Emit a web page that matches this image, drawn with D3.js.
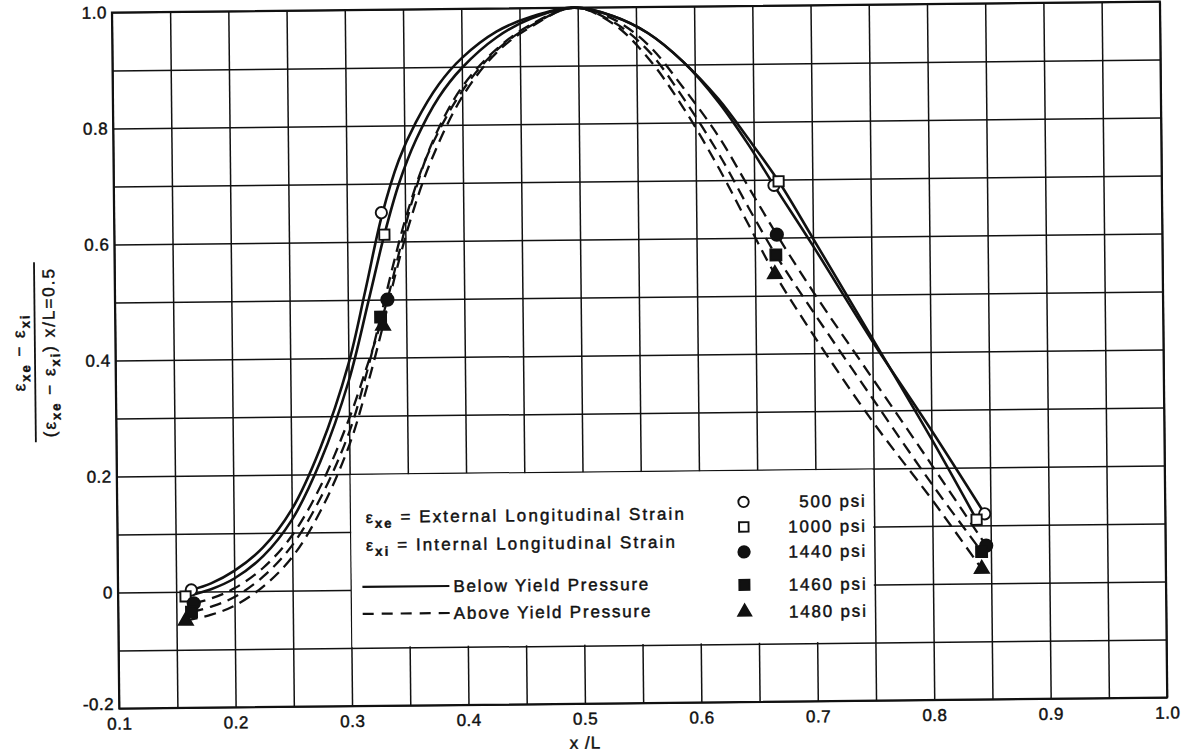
<!DOCTYPE html>
<html><head><meta charset="utf-8">
<script src="https://cdn.jsdelivr.net/npm/d3@7"></script>
<style>
body{margin:0;background:#fff;}
svg text{font-family:"Liberation Sans",Arial,sans-serif;fill:#111;stroke:#111;stroke-width:0.45;}
</style></head><body>
<svg id="c" width="1193" height="752"></svg>
<script>
// ---- data ----
const xGridVals = [0.1,0.15,0.2,0.25,0.3,0.35,0.4,0.45,0.5,0.55,0.6,0.65,0.7,0.75,0.8,0.85,0.9,0.95,1.0];
const xTickVals = [0.1,0.2,0.3,0.4,0.5,0.6,0.7,0.8,0.9,1.0];
const xTickLabels = ["0.1","0.2","0.3","0.4","0.5","0.6","0.7","0.8","0.9","1.0"];
const yGridVals = [-0.2,-0.1,0,0.1,0.2,0.3,0.4,0.5,0.6,0.7,0.8,0.9,1.0];
const yTickVals = [-0.2,0,0.2,0.4,0.6,0.8,1.0];
const yTickLabels = ["-0.2","0","0.2","0.4","0.6","0.8","1.0"];

// fitted curves
const c500x  = [0.163,0.18,0.20,0.225,0.25,0.275,0.30,0.315,0.33,0.345,0.36,0.38,0.40,0.43,0.46,0.497,0.53,0.56,0.59,0.62,0.645,0.667,0.70,0.75,0.80,0.845];
const c500y  = [0.003,0.014,0.035,0.075,0.14,0.245,0.39,0.515,0.645,0.74,0.805,0.87,0.915,0.96,0.985,1.0,0.985,0.955,0.905,0.835,0.762,0.69,0.585,0.42,0.265,0.12];
const c1000x = [0.158,0.18,0.20,0.225,0.25,0.275,0.30,0.318,0.332,0.345,0.36,0.38,0.40,0.43,0.46,0.497,0.53,0.56,0.59,0.62,0.645,0.671,0.70,0.75,0.80,0.838];
const c1000y = [-0.008,0.004,0.022,0.06,0.122,0.222,0.36,0.50,0.612,0.70,0.775,0.848,0.898,0.95,0.982,1.0,0.985,0.955,0.905,0.84,0.772,0.697,0.598,0.425,0.25,0.11];
const c1440x = [0.165,0.18,0.20,0.225,0.25,0.275,0.30,0.315,0.325,0.334,0.345,0.357,0.375,0.40,0.43,0.46,0.497,0.53,0.56,0.59,0.62,0.645,0.669,0.70,0.75,0.80,0.846];
const c1440y = [-0.02,-0.012,0.005,0.04,0.095,0.18,0.295,0.38,0.44,0.50,0.585,0.675,0.775,0.865,0.93,0.972,1.0,0.98,0.935,0.86,0.775,0.688,0.605,0.505,0.355,0.205,0.065];
const c1460x = [0.163,0.18,0.20,0.225,0.25,0.275,0.30,0.315,0.328,0.34,0.352,0.37,0.40,0.43,0.46,0.497,0.53,0.56,0.59,0.62,0.645,0.668,0.70,0.75,0.80,0.842];
const c1460y = [-0.035,-0.026,-0.01,0.025,0.078,0.16,0.272,0.37,0.47,0.565,0.65,0.75,0.858,0.928,0.97,1.0,0.975,0.925,0.842,0.745,0.652,0.57,0.47,0.32,0.172,0.055];
const c1480x = [0.158,0.18,0.20,0.225,0.25,0.275,0.30,0.315,0.33,0.342,0.355,0.372,0.40,0.43,0.46,0.497,0.53,0.56,0.59,0.62,0.645,0.667,0.70,0.75,0.80,0.842];
const c1480y = [-0.05,-0.04,-0.025,0.008,0.058,0.138,0.25,0.345,0.455,0.55,0.64,0.735,0.848,0.924,0.968,1.0,0.972,0.912,0.825,0.72,0.622,0.537,0.43,0.28,0.145,0.025];

// measured points
const m500x  = [0.163,0.3296,0.667,0.845];
const m500y  = [0.003,0.65,0.69,0.12];
const m1000x = [0.158,0.332,0.671,0.838];
const m1000y = [-0.008,0.612,0.697,0.11];
const m1440x = [0.165,0.334,0.669,0.846];
const m1440y = [-0.02,0.50,0.605,0.065];
const m1460x = [0.163,0.328,0.668,0.842];
const m1460y = [-0.035,0.47,0.57,0.055];
const m1480x = [0.158,0.33,0.667,0.842];
const m1480y = [-0.05,0.455,0.537,0.025];

const seriesNames = ["500 psi","1000 psi","1440 psi","1460 psi","1480 psi"];

// ---- layout ----
const L=115.5,R=1163.5,T=7,B=703;
const FONT='"Liberation Sans",Arial,sans-serif';
const x = d3.scaleLinear().domain([0.1,1.0]).range([L,R]);
const y = d3.scaleLinear().domain([-0.2,1.0]).range([B,T]);
const zip=(a,b)=>a.map((v,i)=>[v,b[i]]);

const svg = d3.select("#c");
svg.append("rect").attr("width",1193).attr("height",752).attr("fill","#fff");
const g = svg.append("g").attr("transform","rotate(-0.6,639.5,355)");

// grid
const gx = g.append("g").attr("transform",`translate(0,${B})`)
  .call(d3.axisBottom(x).tickValues(xGridVals).tickSize(-(B-T)).tickFormat(""));
gx.select(".domain").remove();
gx.selectAll("line").attr("stroke","#111").attr("stroke-width",1.5);
const gy = g.append("g").attr("transform",`translate(${L},0)`)
  .call(d3.axisLeft(y).tickValues(yGridVals).tickSize(-(R-L)).tickFormat(""));
gy.select(".domain").remove();
gy.selectAll("line").attr("stroke","#111").attr("stroke-width",1.5);

// tick labels
const xl = g.append("g").attr("transform",`translate(0,${B})`)
  .call(d3.axisBottom(x).tickValues(xTickVals).tickSize(0).tickPadding(9).tickFormat((d,i)=>xTickLabels[i]));
xl.select(".domain").remove();
xl.attr("font-size",17).attr("font-family",FONT);
xl.selectAll("text").attr("fill","#111").attr("letter-spacing",0.5);
const yl = g.append("g").attr("transform",`translate(${L},0)`)
  .call(d3.axisLeft(y).tickValues(yTickVals).tickSize(0).tickPadding(5).tickFormat((d,i)=>yTickLabels[i]));
yl.select(".domain").remove();
yl.attr("font-size",17).attr("font-family",FONT);
yl.selectAll("text").attr("fill","#111").attr("letter-spacing",0.5)
  .attr("dy",d=>d===-0.2?"0.05em":"0.32em");

// legend box background
const lx0=x(0.3), lx1=x(0.75), ly0=y(0.2), ly1=y(-0.1);
g.append("rect").attr("x",lx0+1).attr("y",ly0+1).attr("width",lx1-lx0-2).attr("height",ly1-ly0-2).attr("fill","#fff");

// curves
const line = d3.line().x(d=>x(d[0])).y(d=>y(d[1])).curve(d3.curveCatmullRom.alpha(0.5));
const curves = [
  {d:zip(c500x,c500y),dash:null},
  {d:zip(c1000x,c1000y),dash:null},
  {d:zip(c1440x,c1440y),dash:"12,7"},
  {d:zip(c1460x,c1460y),dash:"12,7"},
  {d:zip(c1480x,c1480y),dash:"12,7"}
];
g.selectAll("path.curve").data(curves).join("path").attr("class","curve")
  .attr("d",c=>line(c.d)).attr("fill","none").attr("stroke","#111")
  .attr("stroke-width",c=>c.dash?2.3:2.6).attr("stroke-dasharray",c=>c.dash);

// frame
g.append("rect").attr("x",L).attr("y",T).attr("width",R-L).attr("height",B-T)
  .attr("fill","none").attr("stroke","#111").attr("stroke-width",2);

// markers
const sym = [
  {t:d3.symbolCircle,s:100,fill:"#fff"},
  {t:d3.symbolSquare,s:105,fill:"#fff"},
  {t:d3.symbolCircle,s:120,fill:"#111"},
  {t:d3.symbolSquare,s:120,fill:"#111"},
  {t:d3.symbolTriangle,s:85,fill:"#111"}
];
const marks = [zip(m500x,m500y),zip(m1000x,m1000y),zip(m1440x,m1440y),zip(m1460x,m1460y),zip(m1480x,m1480y)];
marks.forEach((pts,i)=>{
  g.selectAll(null).data(pts).join("path")
    .attr("transform",d=>`translate(${x(d[0])},${y(d[1])})`)
    .attr("d",d3.symbol().type(sym[i].t).size(sym[i].s))
    .attr("fill",sym[i].fill).attr("stroke","#111").attr("stroke-width",1.9);
});

// legend text (left column)
const lg = g.append("g").attr("font-size",17).attr("font-family",FONT);
function epsText(parent, xx, yy, sub, rest){
  const t = parent.append("text").attr("x",xx).attr("y",yy).attr("letter-spacing",2.1);
  t.append("tspan").text("\u03b5").attr("font-size",16);
  t.append("tspan").text(sub).attr("font-size",13).attr("font-weight","bold").attr("dy",5);
  t.append("tspan").text(rest).attr("dy",-5);
  return t;
}
epsText(lg, 364, 514+6, "xe", " = External Longitudinal Strain");
epsText(lg, 364, 542+6, "xi", " = Internal Longitudinal Strain");
lg.append("line").attr("x1",360).attr("x2",447).attr("y1",584).attr("y2",584).attr("stroke","#111").attr("stroke-width",2.2);
lg.append("text").attr("x",451).attr("y",584+6).attr("letter-spacing",1.8).text("Below Yield Pressure");
lg.append("line").attr("x1",360).attr("x2",449).attr("y1",611).attr("y2",611).attr("stroke","#111").attr("stroke-width",2.2).attr("stroke-dasharray","11,8");
lg.append("text").attr("x",451).attr("y",611+6).attr("letter-spacing",1.8).text("Above Yield Pressure");

// legend (right column)
const rowY = [503,528,553,586,613];
seriesNames.forEach((n,i)=>{
  lg.append("path").attr("transform",`translate(742,${rowY[i]})`)
    .attr("d",d3.symbol().type(sym[i].t).size(sym[i].s*0.85))
    .attr("fill",sym[i].fill).attr("stroke","#111").attr("stroke-width",1.9);
  lg.append("text").attr("x",865).attr("y",rowY[i]+6).attr("text-anchor","end").attr("letter-spacing",1.8).text(n);
});

// axis titles
g.append("text").attr("x",x(0.5)).attr("y",748).attr("text-anchor","middle").attr("font-size",17).attr("letter-spacing",1).text("x /L");

const yt = g.append("g").attr("transform","translate(35,346) rotate(-90)").attr("font-size",17).attr("font-family",FONT);
const num = yt.append("text").attr("x",0).attr("y",-10).attr("text-anchor","middle").attr("letter-spacing",2);
num.append("tspan").text("\u03b5").attr("font-size",17);
num.append("tspan").text("xe").attr("font-size",13).attr("font-weight","bold").attr("dy",5);
num.append("tspan").text(" \u2212 \u03b5").attr("dy",-5);
num.append("tspan").text("xi").attr("font-size",13).attr("font-weight","bold").attr("dy",5);
yt.append("line").attr("x1",-90).attr("x2",90).attr("y1",0).attr("y2",0).attr("stroke","#111").attr("stroke-width",1.8);
const den = yt.append("text").attr("x",0).attr("y",20).attr("text-anchor","middle").attr("letter-spacing",2);
den.append("tspan").text("(\u03b5");
den.append("tspan").text("xe").attr("font-size",13).attr("font-weight","bold").attr("dy",5);
den.append("tspan").text(" \u2212 \u03b5").attr("dy",-5);
den.append("tspan").text("xi").attr("font-size",13).attr("font-weight","bold").attr("dy",5);
den.append("tspan").text(") x/L=0.5").attr("dy",-5);
</script>
</body></html>
